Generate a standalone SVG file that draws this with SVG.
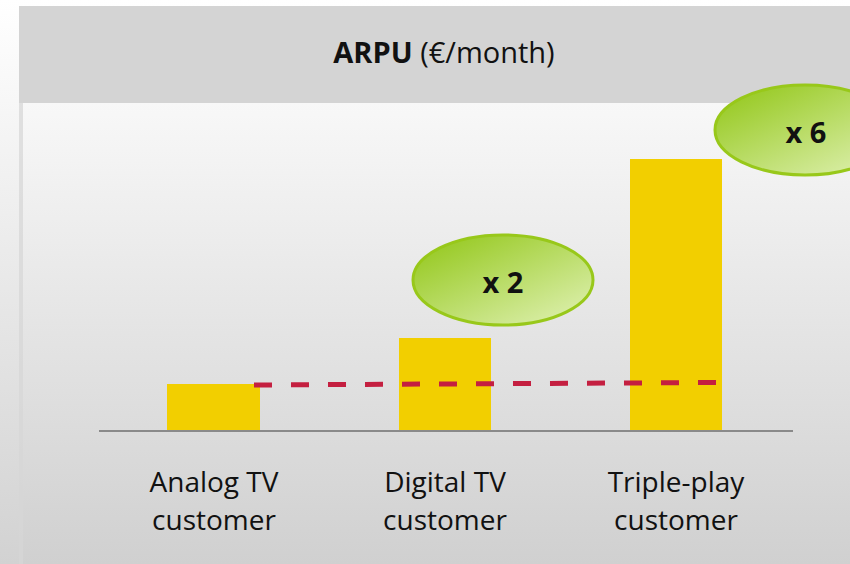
<svg xmlns="http://www.w3.org/2000/svg" width="850" height="564" viewBox="0 0 850 564">
  <defs>
    <linearGradient id="pageBg" x1="0" y1="0" x2="0" y2="1">
      <stop offset="0" stop-color="#ffffff"/>
      <stop offset="1" stop-color="#d2d2d2"/>
    </linearGradient>
    <linearGradient id="panelBg" x1="0" y1="0" x2="0" y2="1">
      <stop offset="0" stop-color="#f8f8f8"/>
      <stop offset="1" stop-color="#d0d0d0"/>
    </linearGradient>
    <linearGradient id="bubble" x1="0.15" y1="0.15" x2="0.85" y2="0.9">
      <stop offset="0" stop-color="#9ccc2c"/>
      <stop offset="1" stop-color="#d8eda4"/>
    </linearGradient>
  </defs>
  <style>
    .bar { fill: #f2cf00; }
    .bubble { fill: url(#bubble); stroke: #98c81a; stroke-width: 3; }
    .label { font-family: "Open Sans", "Liberation Sans", sans-serif; font-size: 28px; fill: #111; text-anchor: middle; }
    .factor { font-family: "Open Sans", "Liberation Sans", sans-serif; font-size: 29px; font-weight: bold; fill: #111; text-anchor: middle; }
    .title { font-family: "Open Sans", "Liberation Sans", sans-serif; font-size: 29px; fill: #111; }
  </style>

  <!-- page and panel backgrounds -->
  <rect x="0" y="0" width="850" height="564" fill="url(#pageBg)"/>
  <rect x="19" y="103" width="4" height="461" fill="#d6d6d6" opacity="0.7"/>
  <rect x="23" y="103" width="827" height="461" fill="url(#panelBg)"/>

  <!-- header band -->
  <g id="header">
    <rect x="19" y="6" width="831" height="97" fill="#d4d4d4"/>
    <text class="title" x="444" y="63" text-anchor="middle"><tspan font-weight="bold">ARPU</tspan> (€/month)</text>
  </g>

  <!-- bars -->
  <g id="bar-analog"><rect class="bar" x="167" y="384" width="93" height="47"/></g>
  <g id="bar-digital"><rect class="bar" x="399" y="338" width="92" height="93"/></g>
  <g id="bar-triple"><rect class="bar" x="630" y="159" width="92" height="272"/></g>

  <!-- axis and reference line -->
  <g id="connectors">
    <line x1="99" y1="431" x2="793" y2="431" stroke="#8a8a8a" stroke-width="2"/>
    <line x1="254" y1="385" x2="720" y2="382.5" stroke="#c41f40" stroke-width="5" stroke-dasharray="18 19"/>
  </g>

  <!-- multiplier bubbles -->
  <g id="bubble-x2">
    <ellipse class="bubble" cx="503" cy="280" rx="90" ry="45"/>
    <text class="factor" x="503" y="293">x 2</text>
  </g>
  <g id="bubble-x6">
    <ellipse class="bubble" cx="805" cy="130" rx="90" ry="45"/>
    <text class="factor" x="806" y="143">x 6</text>
  </g>

  <!-- category labels -->
  <g id="label-analog">
    <text class="label" x="214" y="492">Analog TV</text>
    <text class="label" x="214" y="530">customer</text>
  </g>
  <g id="label-digital">
    <text class="label" x="445" y="492">Digital TV</text>
    <text class="label" x="445" y="530">customer</text>
  </g>
  <g id="label-triple">
    <text class="label" x="676" y="492">Triple-play</text>
    <text class="label" x="676" y="530">customer</text>
  </g>
</svg>
